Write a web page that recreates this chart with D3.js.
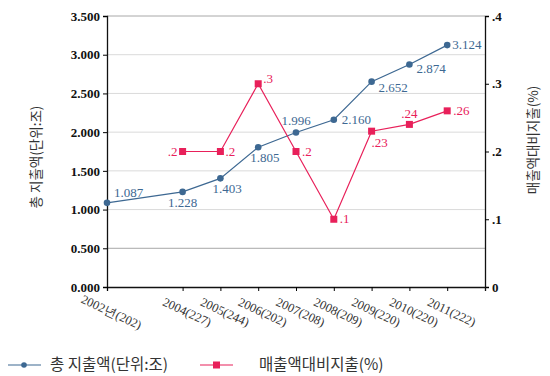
<!DOCTYPE html>
<html>
<head>
<meta charset="utf-8">
<script src="https://cdn.jsdelivr.net/npm/d3@7"></script>
<style>
  body { margin: 0; background: #fff; }
  .tick text { font-family: "Liberation Serif", serif; }
</style>
</head>
<body>
<svg id="chart" width="550" height="376"></svg>
<script>
// ---- data ----
const years = [2002, 2004, 2005, 2006, 2007, 2008, 2009, 2010, 2011];
const yearLabels = ["2002년(202)", "2004(227)", "2005(244)", "2006(202)", "2007(208)",
                    "2008(209)", "2009(220)", "2010(220)", "2011(222)"];
const totalSpend = [1.087, 1.228, 1.403, 1.805, 1.996, 2.160, 2.652, 2.874, 3.124];
const spendRatio = [null, 0.2, 0.2, 0.3, 0.2, 0.1, 0.23, 0.24, 0.26];
const leftTicks = [0, 0.5, 1, 1.5, 2, 2.5, 3, 3.5];
const rightTicks = [0, 0.1, 0.2, 0.3, 0.4];
const seriesNames = ["총 지출액(단위:조)", "매출액대비지출(%)"];

// label placement (dx, dy, anchor) for each point
const blueLabelPos = [[7,-6,"start"],[0,15,"middle"],[-8,15,"start"],[-8,15,"start"],[0,-7,"middle"],
                      [8,4,"start"],[7,10,"start"],[7,9,"start"],[5,4,"start"]];
const redLabelPos = [null,[-5,4,"end"],[5,4,"start"],[5,-1,"start"],[6,4,"start"],[6,4,"start"],
                     [0,16,"start"],[0,-6,"middle"],[6,4,"start"]];

const blue = "#3d6892";
const red = "#e8205a";

const svg = d3.select("#chart");
const plot = { left: 107, right: 485, top: 16, bottom: 287 };

const x = d3.scaleLinear().domain([2002, 2012]).range([plot.left, plot.right]);
const yL = d3.scaleLinear().domain([0, 3.5]).range([plot.bottom, plot.top]);
const yR = d3.scaleLinear().domain([0, 0.4]).range([plot.bottom, plot.top]);

// gridlines
svg.append("g").selectAll("line").data(leftTicks.filter(d => d > 0))
  .join("line")
  .attr("x1", plot.left).attr("x2", plot.right)
  .attr("y1", d => yL(d)).attr("y2", d => yL(d))
  .attr("stroke", d => (d === 0.5 || d === 3.5) ? "#a8a8a8" : "#dadada")
  .attr("stroke-width", 1);

// left axis
const axL = svg.append("g").attr("transform", `translate(${plot.left},0)`)
  .call(d3.axisLeft(yL).tickValues(leftTicks).tickFormat(d3.format(".3f")).tickSizeOuter(0).tickSize(4));
axL.selectAll("text").attr("font-size", 13).attr("font-weight", "bold").attr("fill", "#111").attr("x", -7);
axL.select(".domain").attr("stroke", "#111").attr("stroke-width", 1.3);

// right axis
const axR = svg.append("g").attr("transform", `translate(${plot.right},0)`)
  .call(d3.axisRight(yR).tickValues(rightTicks)
    .tickFormat(d => d === 0 ? "0" : d3.format(".1f")(d).replace(/^0/, "")).tickSizeOuter(0).tickSize(4));
axR.selectAll("text").attr("font-size", 13).attr("font-weight", "bold").attr("fill", "#111").attr("x", 7);
axR.select(".domain").attr("stroke", "#111").attr("stroke-width", 1.3);

// bottom axis
const axB = svg.append("g").attr("transform", `translate(0,${plot.bottom})`)
  .call(d3.axisBottom(x).tickValues(years).tickFormat((d, i) => yearLabels[i]).tickSizeOuter(0).tickSize(4));
axB.select(".domain").attr("stroke", "#111").attr("stroke-width", 1.3);
axB.selectAll("text")
  .attr("font-size", 12.5).attr("fill", "#333")
  .attr("text-anchor", "middle")
  .attr("transform", "translate(4,25) rotate(25)")
  .attr("y", 0).attr("dy", "0.35em");

// axis titles (both read bottom to top)
svg.append("text")
  .attr("transform", `translate(36,157) rotate(-90)`)
  .attr("text-anchor", "middle")
  .attr("dy", "0.35em")
  .attr("font-family", "'Noto Sans CJK KR', sans-serif")
  .attr("font-size", 13.5).attr("fill", "#333")
  .text("총 지출액(단위:조)");

svg.append("text")
  .attr("transform", `translate(533,140) rotate(-90)`)
  .attr("text-anchor", "middle")
  .attr("dy", "0.35em")
  .attr("font-family", "'Noto Sans CJK KR', sans-serif")
  .attr("font-size", 13.5).attr("fill", "#333")
  .text("매출액대비지출(%)");

// blue series
const blueData = years.map((yr, i) => ({ yr, v: totalSpend[i], i }));
svg.append("path").datum(blueData)
  .attr("fill", "none").attr("stroke", blue).attr("stroke-width", 1.2)
  .attr("d", d3.line().x(d => x(d.yr)).y(d => yL(d.v)));
svg.append("g").selectAll("circle").data(blueData).join("circle")
  .attr("cx", d => x(d.yr)).attr("cy", d => yL(d.v)).attr("r", 3.3).attr("fill", blue);
svg.append("g").selectAll("text").data(blueData).join("text")
  .attr("x", d => x(d.yr) + blueLabelPos[d.i][0])
  .attr("y", d => yL(d.v) + blueLabelPos[d.i][1])
  .attr("text-anchor", d => blueLabelPos[d.i][2])
  .attr("font-family", "'Liberation Serif', serif").attr("font-size", 13).attr("fill", blue)
  .text(d => d3.format(".3f")(d.v));

// red series
const redData = years.map((yr, i) => ({ yr, v: spendRatio[i], i })).filter(d => d.v !== null);
svg.append("path").datum(redData)
  .attr("fill", "none").attr("stroke", red).attr("stroke-width", 1.2)
  .attr("d", d3.line().x(d => x(d.yr)).y(d => yR(d.v)));
svg.append("g").selectAll("rect").data(redData).join("rect")
  .attr("x", d => x(d.yr) - 3.5).attr("y", d => yR(d.v) - 3.5)
  .attr("width", 7).attr("height", 7).attr("fill", red);
svg.append("g").selectAll("text").data(redData).join("text")
  .attr("x", d => x(d.yr) + redLabelPos[d.i][0])
  .attr("y", d => yR(d.v) + redLabelPos[d.i][1])
  .attr("text-anchor", d => redLabelPos[d.i][2])
  .attr("font-family", "'Liberation Serif', serif").attr("font-size", 13).attr("fill", red)
  .text(d => String(d.v).replace(/^0/, ""));

// legend
const legend = svg.append("g").attr("transform", "translate(0,365)");
const legItems = [
  { name: seriesNames[0], color: blue, x0: 8, tx: 50, shape: "circle" },
  { name: seriesNames[1], color: red, x0: 200, tx: 259, shape: "rect" }
];
legItems.forEach(d => {
  legend.append("line").attr("x1", d.x0).attr("x2", d.x0 + 33).attr("y1", 0).attr("y2", 0)
    .attr("stroke", d.color).attr("stroke-width", 1.2);
  if (d.shape === "circle") {
    legend.append("circle").attr("cx", d.x0 + 16).attr("cy", 0).attr("r", 2.8).attr("fill", d.color);
  } else {
    legend.append("rect").attr("x", d.x0 + 13).attr("y", -3.5).attr("width", 7).attr("height", 7).attr("fill", d.color);
  }
  legend.append("text").attr("x", d.tx).attr("y", 0).attr("dy", "0.35em")
    .attr("font-family", "'Noto Sans CJK KR', sans-serif").attr("font-size", 15.5).attr("fill", "#333")
    .text(d.name);
});
</script>
</body>
</html>
